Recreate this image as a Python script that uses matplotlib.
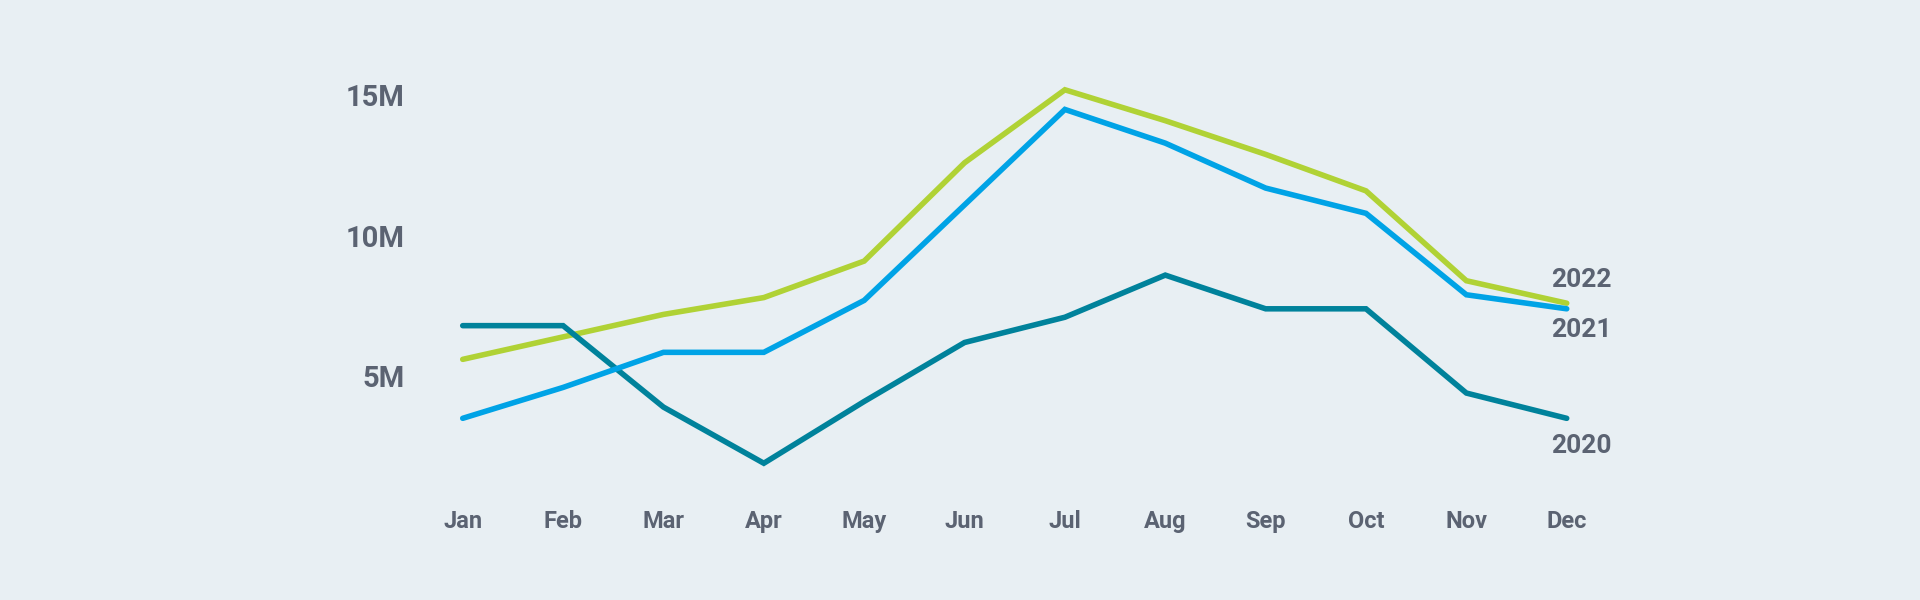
import matplotlib.pyplot as plt

# -----------------------------
# DATA (millions)
# -----------------------------
months = ["Jan", "Feb", "Mar", "Apr", "May", "Jun",
          "Jul", "Aug", "Sep", "Oct", "Nov", "Dec"]

y2020 = [6.8, 6.8, 3.9, 1.9, 4.1, 6.2, 7.1, 8.6, 7.4, 7.4, 4.4, 3.5]
y2021 = [3.5, 4.6, 5.85, 5.85, 7.7, 11.1, 14.5, 13.3, 11.7, 10.8, 7.9, 7.4]
y2022 = [5.6, 6.4, 7.2, 7.8, 9.1, 12.6, 15.2, 14.1, 12.9, 11.6, 8.4, 7.6]

yticks = [5, 10, 15]
ytick_labels = ["5M", "10M", "15M"]

# end-of-line label positions (value level)
end_labels = ["2022", "2021", "2020"]
end_label_y = [8.43, 6.64, 2.53]

# -----------------------------
# STYLE
# -----------------------------
bg = "#e8eff3"
text_col = "#5b6372"
c2020 = "#00829b"
c2021 = "#00a3e6"
c2022 = "#b0d235"

plt.rcParams["font.family"] = ["Roboto", "DejaVu Sans"]

fig = plt.figure(figsize=(19.2, 6), dpi=100, facecolor=bg)
ax = fig.add_axes([0.241, 0.139, 0.575, 0.702])
ax.set_facecolor(bg)

x = list(range(len(months)))
lw = 4.0
for ys, col, z in [(y2022, c2022, 3), (y2020, c2020, 4), (y2021, c2021, 5)]:
    ax.plot(x, ys, color=col, linewidth=lw, solid_capstyle="round",
            solid_joinstyle="miter", zorder=z, clip_on=False)

ax.set_xlim(0, 11)
ax.set_ylim(0, 15)

ax.set_xticks(x)
ax.set_xticklabels(months)
ax.set_yticks(yticks)
ax.set_yticklabels(ytick_labels)
ax.tick_params(axis="x", length=0, pad=-5, labelsize=17, labelcolor=text_col)
ax.tick_params(axis="y", length=0, pad=42, labelsize=21, labelcolor=text_col)
for lab in ax.get_xticklabels() + ax.get_yticklabels():
    lab.set_fontweight("bold")

for sp in ax.spines.values():
    sp.set_visible(False)

for lab, yy in zip(end_labels, end_label_y):
    ax.text(10.84, yy, lab, ha="left", va="center", fontsize=19,
            fontweight="bold", color=text_col, clip_on=False)

fig.savefig("out.png", dpi=100, facecolor=bg)
